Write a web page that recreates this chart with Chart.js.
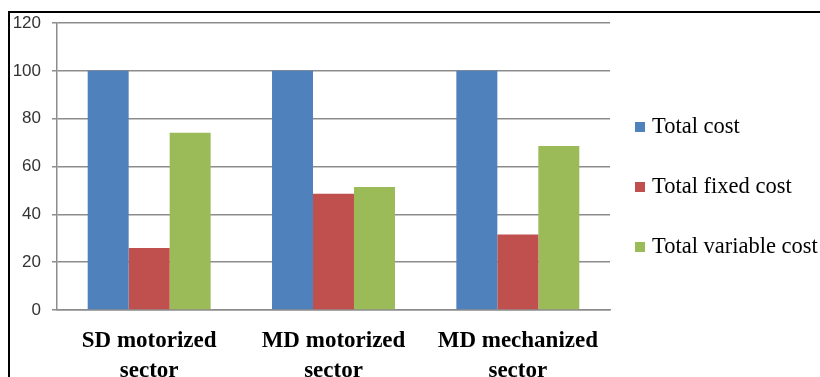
<!DOCTYPE html>
<html>
<head>
<meta charset="utf-8">
<script src="https://cdn.jsdelivr.net/npm/chart.js@4/dist/chart.umd.min.js"></script>
<style>
  html, body { margin: 0; padding: 0; background: #fff; }
  #wrap { position: relative; width: 820px; height: 377px; overflow: hidden; }
  #frame { position: absolute; left: 8px; top: 11px; right: -4px; bottom: -4px;
           border-top: 2px solid #000; border-left: 2px solid #000; pointer-events: none; }
  canvas { position: absolute; left: 0; top: 0; }
</style>
</head>
<body>
<div id="wrap">
  <canvas id="c" width="820" height="377"></canvas>
  <div id="frame"></div>
</div>
<script>
// Cost structure by fishing sector (percent of total cost)
const sectors = [
  ["SD motorized", "sector"],
  ["MD motorized", "sector"],
  ["MD mechanized", "sector"]
];
const totalCost = [100, 100, 100];
const totalFixedCost = [25.9, 48.6, 31.6];
const totalVariableCost = [74.1, 51.4, 68.6];
const yTicks = [0, 20, 40, 60, 80, 100, 120];

const seriesNames = ["Total cost", "Total fixed cost", "Total variable cost"];
const seriesColors = ["#4F81BD", "#C0504D", "#9BBB59"];

// Legend drawn beside the plot, one entry per dataset
const sideLegend = {
  id: 'sideLegend',
  afterDraw(chart) {
    const ctx = chart.ctx;
    ctx.save();
    ctx.font = '22.5px "Liberation Serif", "Times New Roman", serif';
    ctx.textBaseline = 'middle';
    ctx.textAlign = 'left';
    chart.data.datasets.forEach((ds, i) => {
      const y = 127 + i * 60;
      ctx.fillStyle = ds.backgroundColor;
      ctx.fillRect(635, y - 5, 10, 10);
      ctx.fillStyle = '#000';
      ctx.fillText(ds.label, 652, y);
    });
    ctx.restore();
  }
};

const data = {
  labels: sectors,
  datasets: [
    { label: seriesNames[0], data: totalCost, backgroundColor: seriesColors[0] },
    { label: seriesNames[1], data: totalFixedCost, backgroundColor: seriesColors[1] },
    { label: seriesNames[2], data: totalVariableCost, backgroundColor: seriesColors[2] }
  ]
};

new Chart(document.getElementById('c'), {
  type: 'bar',
  data,
  options: {
    responsive: false,
    animation: false,
    events: [],
    layout: { padding: { left: 0, top: 23, right: 210, bottom: 0 } },
    datasets: { bar: { categoryPercentage: 0.667, barPercentage: 1.0, borderWidth: 0 } },
    plugins: { legend: { display: false }, tooltip: { enabled: false } },
    scales: {
      x: {
        grid: { display: false, drawTicks: false },
        border: { display: true, color: '#8c8c8c', width: 1.5 },
        ticks: {
          padding: 16,
          color: '#000',
          maxRotation: 0,
          autoSkip: false,
          font: { family: '"Liberation Serif", "Times New Roman", serif', size: 23, weight: 'bold', lineHeight: 1.3 }
        },
        afterFit(scale) { scale.height = 67; }
      },
      y: {
        min: 0,
        max: 120,
        afterBuildTicks(scale) { scale.ticks = yTicks.map(v => ({ value: v })); },
        grid: { color: '#8c8c8c', lineWidth: 1.5, tickLength: 5, drawTicks: true },
        border: { display: true, color: '#8c8c8c', width: 1.5 },
        ticks: {
          padding: 11,
          color: '#333',
          font: { family: '"Liberation Sans", Arial, sans-serif', size: 17 }
        },
        afterFit(scale) { scale.width = 57; }
      }
    }
  },
  plugins: [sideLegend]
});
</script>
</body>
</html>
